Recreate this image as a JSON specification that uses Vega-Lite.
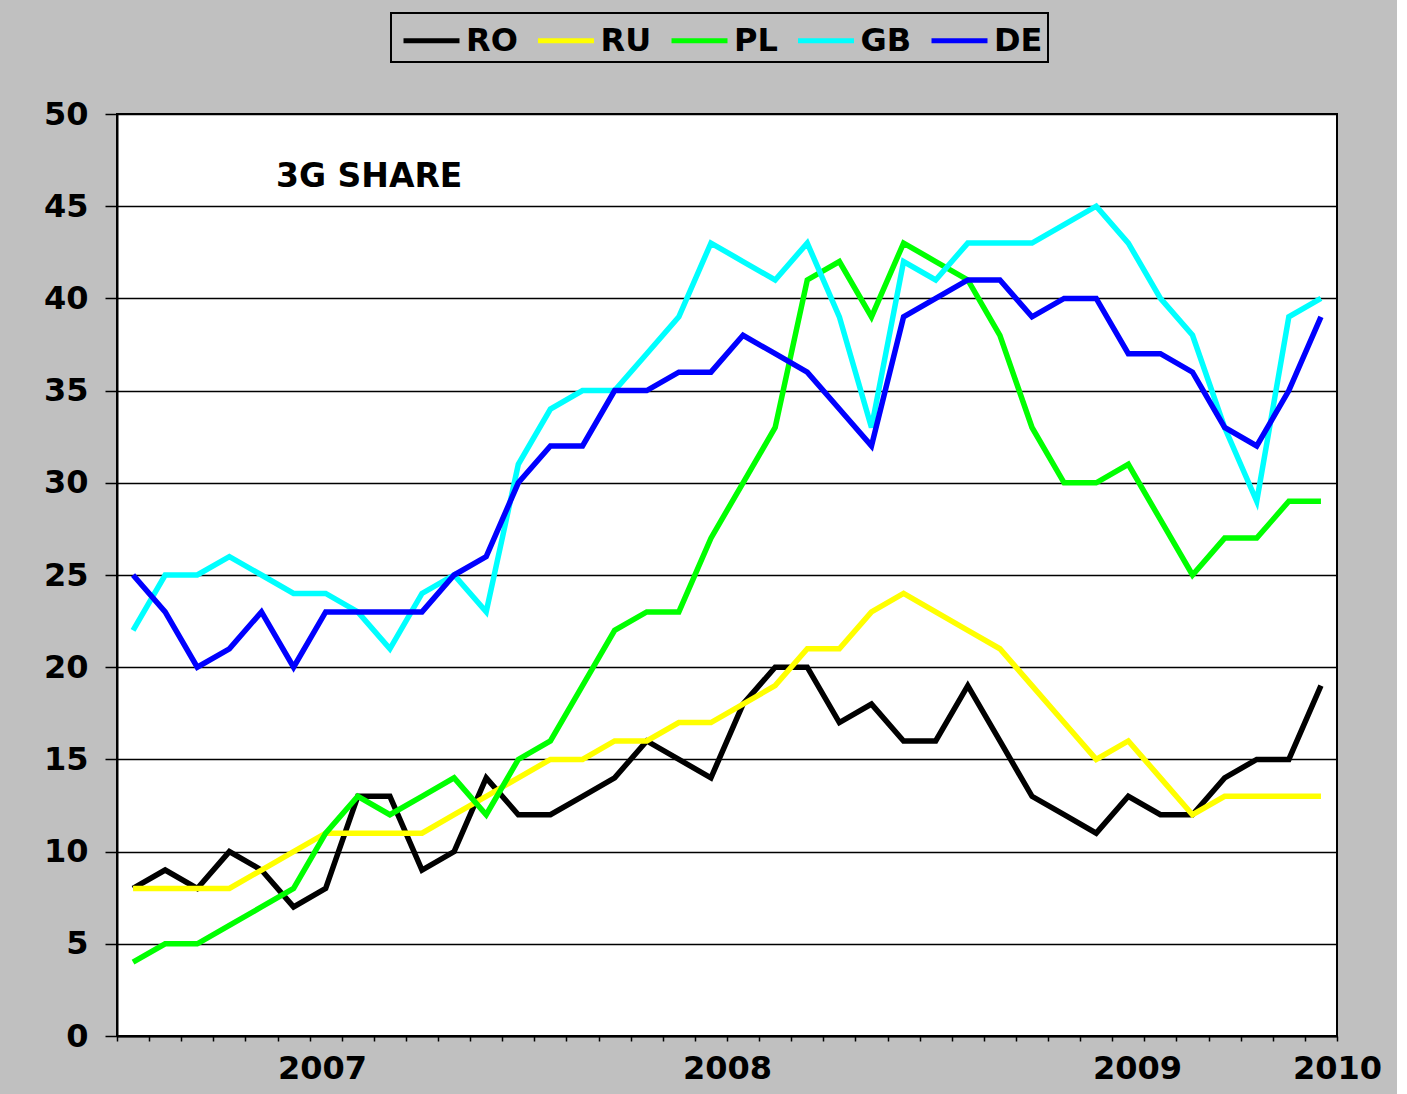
{
  "$schema": "https://vega.github.io/schema/vega-lite/v6.json",
  "autosize": "none",
  "width": 1220,
  "height": 922,
  "padding": {"left": 117, "top": 114, "right": 60, "bottom": 58},
  "title": {"text": "3G SHARE", "anchor": "start", "frame": "group", "orient": "top", "offset": 0, "dx": 159, "dy": 198, "baseline": "middle", "font": "DejaVu Sans", "fontSize": 33, "fontWeight": "bold", "color": "black"},
  "data": {"values": [
    {"m":0,"RO":8,"RU":8,"PL":4,"GB":22,"DE":25},
    {"m":1,"RO":9,"RU":8,"PL":5,"GB":25,"DE":23},
    {"m":2,"RO":8,"RU":8,"PL":5,"GB":25,"DE":20},
    {"m":3,"RO":10,"RU":8,"PL":6,"GB":26,"DE":21},
    {"m":4,"RO":9,"RU":9,"PL":7,"GB":25,"DE":23},
    {"m":5,"RO":7,"RU":10,"PL":8,"GB":24,"DE":20},
    {"m":6,"RO":8,"RU":11,"PL":11,"GB":24,"DE":23},
    {"m":7,"RO":13,"RU":11,"PL":13,"GB":23,"DE":23},
    {"m":8,"RO":13,"RU":11,"PL":12,"GB":21,"DE":23},
    {"m":9,"RO":9,"RU":11,"PL":13,"GB":24,"DE":23},
    {"m":10,"RO":10,"RU":12,"PL":14,"GB":25,"DE":25},
    {"m":11,"RO":14,"RU":13,"PL":12,"GB":23,"DE":26},
    {"m":12,"RO":12,"RU":14,"PL":15,"GB":31,"DE":30},
    {"m":13,"RO":12,"RU":15,"PL":16,"GB":34,"DE":32},
    {"m":14,"RO":13,"RU":15,"PL":19,"GB":35,"DE":32},
    {"m":15,"RO":14,"RU":16,"PL":22,"GB":35,"DE":35},
    {"m":16,"RO":16,"RU":16,"PL":23,"GB":37,"DE":35},
    {"m":17,"RO":15,"RU":17,"PL":23,"GB":39,"DE":36},
    {"m":18,"RO":14,"RU":17,"PL":27,"GB":43,"DE":36},
    {"m":19,"RO":18,"RU":18,"PL":30,"GB":42,"DE":38},
    {"m":20,"RO":20,"RU":19,"PL":33,"GB":41,"DE":37},
    {"m":21,"RO":20,"RU":21,"PL":41,"GB":43,"DE":36},
    {"m":22,"RO":17,"RU":21,"PL":42,"GB":39,"DE":34},
    {"m":23,"RO":18,"RU":23,"PL":39,"GB":33,"DE":32},
    {"m":24,"RO":16,"RU":24,"PL":43,"GB":42,"DE":39},
    {"m":25,"RO":16,"RU":23,"PL":42,"GB":41,"DE":40},
    {"m":26,"RO":19,"RU":22,"PL":41,"GB":43,"DE":41},
    {"m":27,"RO":16,"RU":21,"PL":38,"GB":43,"DE":41},
    {"m":28,"RO":13,"RU":19,"PL":33,"GB":43,"DE":39},
    {"m":29,"RO":12,"RU":17,"PL":30,"GB":44,"DE":40},
    {"m":30,"RO":11,"RU":15,"PL":30,"GB":45,"DE":40},
    {"m":31,"RO":13,"RU":16,"PL":31,"GB":43,"DE":37},
    {"m":32,"RO":12,"RU":14,"PL":28,"GB":40,"DE":37},
    {"m":33,"RO":12,"RU":12,"PL":25,"GB":38,"DE":36},
    {"m":34,"RO":14,"RU":13,"PL":27,"GB":33,"DE":33},
    {"m":35,"RO":15,"RU":13,"PL":27,"GB":29,"DE":32},
    {"m":36,"RO":15,"RU":13,"PL":29,"GB":39,"DE":35},
    {"m":37,"RO":19,"RU":13,"PL":29,"GB":40,"DE":39}
  ]},
  "transform": [{"fold": ["RO", "RU", "PL", "GB", "DE"], "as": ["country", "share"]}],
  "mark": {"type": "line", "strokeWidth": 5.5, "strokeJoin": "miter"},
  "encoding": {
    "x": {
      "field": "m", "type": "quantitative",
      "scale": {"domain": [-0.5, 37.5], "nice": false, "zero": false},
      "axis": {
        "title": null, "grid": false,
        "values": [-0.5,0.5,1.5,2.5,3.5,4.5,5.5,6.5,7.5,8.5,9.5,10.5,11.5,12.5,13.5,14.5,15.5,16.5,17.5,18.5,19.5,20.5,21.5,22.5,23.5,24.5,25.5,26.5,27.5,28.5,29.5,30.5,31.5,32.5,33.5,34.5,35.5,36.5,37.5,5.885,31.27],
        "labelExpr": "abs(datum.value-5.885)<0.01 ? '2007' : abs(datum.value-18.5)<0.01 ? '2008' : abs(datum.value-31.27)<0.01 ? '2009' : abs(datum.value-37.5)<0.01 ? '2010' : ''",
        "tickOpacity": {"condition": {"test": "abs(datum.value - floor(datum.value) - 0.5) > 0.01", "value": 0}, "value": 1},
        "tickSize": 5, "tickWidth": 1.5, "tickColor": "black",
        "domainColor": "black", "domainWidth": 2,
        "labelOverlap": false, "labelFlush": false, "labelPadding": 12,
        "labelFont": "DejaVu Sans", "labelFontWeight": "bold", "labelFontSize": 32, "labelColor": "black"
      }
    },
    "y": {
      "field": "share", "type": "quantitative",
      "scale": {"domain": [0, 50], "nice": false},
      "axis": {
        "title": null, "values": [0,5,10,15,20,25,30,35,40,45,50],
        "grid": true, "gridColor": "black", "gridWidth": 1.5, "gridOpacity": 1,
        "tickSize": 12, "tickWidth": 1.5, "tickColor": "black",
        "domainColor": "black", "domainWidth": 2,
        "labelPadding": 17,
        "labelFont": "DejaVu Sans", "labelFontWeight": "bold", "labelFontSize": 32, "labelColor": "black"
      }
    },
    "color": {
      "field": "country", "type": "nominal",
      "scale": {"domain": ["RO", "RU", "PL", "GB", "DE"], "range": ["#000000", "#ffff00", "#00ff00", "#00ffff", "#0000ff"]},
      "legend": {
        "title": null, "orient": "none", "direction": "horizontal",
        "legendX": 274, "legendY": -101,
        "symbolType": "M -0.75 0 H 2.05", "symbolSize": 1600, "symbolStrokeWidth": 5,
        "labelFont": "DejaVu Sans", "labelFontWeight": "bold", "labelFontSize": 32, "labelColor": "black",
        "labelOffset": 25, "columnPadding": 9.5, "padding": 5,
        "strokeColor": "black", "fillColor": "#c0c0c0"
      }
    }
  },
  "config": {
    "background": "#c0c0c0",
    "view": {"fill": "white", "stroke": "black", "strokeWidth": 2},
    "legend": {"strokeWidth": 2}
  }
}
